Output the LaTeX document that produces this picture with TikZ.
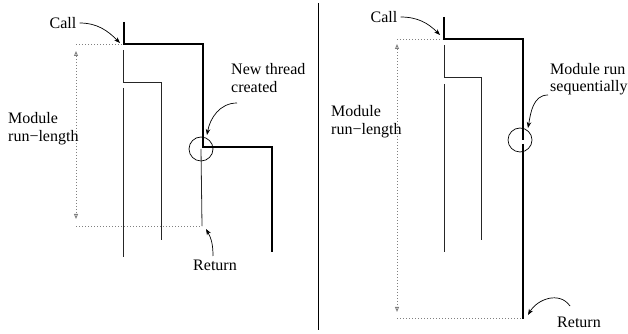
\documentclass[tikz,border=0pt]{standalone}
\usepackage{fontspec}
\setmainfont{Liberation Serif}
\usetikzlibrary{arrows.meta}
\tikzset{
  thickline/.style={line width=1.9pt, line join=miter},
  thinline/.style={line width=0.8pt, black!85},
  dotline/.style={line width=0.9pt, gray, dash pattern=on 1pt off 2pt},
  dotarrow/.style={dotline, {Triangle[open,length=5pt,width=4pt]}-{Triangle[open,length=5pt,width=4pt]}},
  callout/.style={line width=0.7pt, -{Stealth[length=6pt,width=4.5pt]}},
  lbl/.style={inner sep=0pt, font=\fontsize{16}{17.5}\selectfont, align=left},
  ring/.style={draw, line width=0.7pt, circle, minimum size=24pt, inner sep=0pt},
}
\begin{document}
\begin{tikzpicture}[x=1pt,y=1pt]
\useasboundingbox (0,0) rectangle (628,334);
% ---------- left panel ----------
\coordinate (La) at (124,312); \coordinate (Lb) at (124,290);
\coordinate (Lc) at (203,290); \coordinate (Ld) at (203,187);
\coordinate (Le) at (272,187); \coordinate (Lf) at (272,82);
\draw[thickline] (La) -- (Lb) -- (Lc) -- (Ld) -- (Le) -- (Lf);
\coordinate (Lt1) at (123,284); \coordinate (Lt2) at (123,252);
\coordinate (Lt3) at (161,252); \coordinate (Lt4) at (161,94);
\draw[thinline] (Lt1) -- (Lt2) -- (Lt3) -- (Lt4);
\coordinate (Lu1) at (123,246); \coordinate (Lu2) at (123,77);
\draw[thinline] (Lu1) -- (Lu2);
\node[ring] (Lring) at (201,185) {};
\coordinate (Lv2) at (202,108);
\draw[thinline] (Lring.center) -- (Lv2);
\coordinate (Ldt1) at (76,290); \coordinate (Ldt2) at (122,290);
\coordinate (Ldb1) at (76,108);
\draw[dotline] (Ldt1) -- (Ldt2);
\draw[dotline] (Ldb1) -- (Lv2);
\coordinate (Lar1) at (76,283); \coordinate (Lar2) at (76,115);
\draw[dotarrow] (Lar1) -- (Lar2);
\node[lbl] (Lcall) at (63,311) {Call};
\node[lbl, anchor=west] (Lnew) at (231,256) {New thread\\created};
\node[lbl, anchor=west] (Lmod) at (8,205.5) {Module\\run−length};
\node[lbl] (Lret) at (215,69) {Return};
\coordinate (Lcallend) at (120,291);
\draw[callout] (Lcall.east) ++(3,0) to[out=0,in=135] (Lcallend);
\coordinate (Lnewst) at (237,231); \coordinate (Lnewend) at (207,199);
\draw[callout] (Lnewst) to[out=180,in=80] (Lnewend);
\coordinate (Lretst) at (213,78); \coordinate (Lretend) at (206,105);
\draw[callout] (Lretst) to[out=90,in=-60] (Lretend);
% ---------- separator ----------
\coordinate (S1) at (318,331); \coordinate (S2) at (318,4);
\draw[line width=0.8pt] (S1) -- (S2);
% ---------- right panel ----------
\coordinate (Ra) at (444,317); \coordinate (Rb) at (444,295);
\coordinate (Rc) at (523,295); \coordinate (Rd) at (523,194);
\coordinate (Re) at (523,190); \coordinate (Rf) at (523,15);
\draw[thickline] (Ra) -- (Rb) -- (Rc) -- (Rd);
\draw[thickline] (Re) -- (Rf);
\coordinate (Rt1) at (444,289); \coordinate (Rt2) at (444,257);
\coordinate (Rt3) at (481,257); \coordinate (Rt4) at (481,94);
\draw[thinline] (Rt1) -- (Rt2) -- (Rt3) -- (Rt4);
\coordinate (Ru1) at (444,250); \coordinate (Ru2) at (444,82);
\draw[thinline] (Ru1) -- (Ru2);
\node[ring] (Rring) at (520,194) {};
\coordinate (Rdt1) at (397,295); \coordinate (Rdt2) at (442,295);
\coordinate (Rdb1) at (397,16); \coordinate (Rdb2) at (522,16);
\draw[dotline] (Rdt1) -- (Rdt2);
\draw[dotline] (Rdb1) -- (Rdb2);
\coordinate (Rar1) at (397,290); \coordinate (Rar2) at (397,22);
\draw[dotarrow] (Rar1) -- (Rar2);
\node[lbl] (Rcall) at (384,317) {Call};
\node[lbl, anchor=west] (Rseq) at (550,255) {Module run\\sequentially};
\node[lbl, anchor=west] (Rmod) at (331,212.5) {Module\\run−length};
\node[lbl] (Rret) at (579,12) {Return};
\coordinate (Rcallend) at (440,299);
\draw[callout] (Rcall.east) ++(3,0) to[out=0,in=135] (Rcallend);
\coordinate (Rseqst) at (548,239); \coordinate (Rseqend) at (528,206);
\draw[callout] (Rseqst) to[out=180,in=80] (Rseqend);
\coordinate (Rretst) at (570,28); \coordinate (Rretend) at (528,19);
\draw[callout] (Rretst) to[out=125,in=60, looseness=1.1] (Rretend);
\end{tikzpicture}
\end{document}
